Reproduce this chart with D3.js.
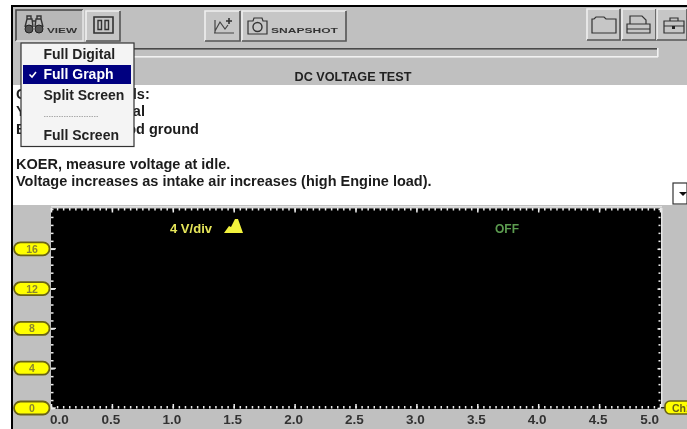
<!DOCTYPE html>
<html lang="en">
  <head>
    <meta charset="utf-8">
    <title>DC Voltage Test</title>
    <script src="https://d3js.org/d3.v7.min.js"></script>
    <style>
      html, body { margin: 0; padding: 0; background: #fff; }
      svg { display: block; }
      text { font-family: "Liberation Sans", Arial, sans-serif; font-weight: bold; }
      .notes text { font-size: 14.5px; fill: #1c1c1c; }
      .menu text { font-size: 14px; fill: #222; }
      .axis path { display: none; }
      .axis line { stroke: #ececec; stroke-width: 1.5; }
    </style>
  </head>
  <body>
    <div id="chart"></div>
    <script>

    // values
    const timeTicks = [0, 0.5, 1, 1.5, 2, 2.5, 3, 3.5, 4, 4.5, 5];
    const voltTicks = [0, 4, 8, 12, 16];
    const voltMax = 20;
    const menuItems = ["Full Digital", "Full Graph", "Split Screen", "", "Full Screen"];
    const noteLines = [
      "Connect test leads:",
      "Yellow lead: signal",
      "Black lead to good ground",
      "",
      "KOER, measure voltage at idle.",
      "Voltage increases as intake air increases (high Engine load)."
    ];

    const W = 687, H = 429;
    const svg = d3.select("#chart").append("svg").attr("width", W).attr("height", H);

    // JPEG softness of the screenshot
    svg.append("defs").append("filter").attr("id", "soft")
      .append("feGaussianBlur").attr("stdDeviation", 0.5);

    const root = svg.append("g").attr("filter", "url(#soft)");

    function rect(g, x, y, w, h, fill) {
      return g.append("rect").attr("x", x).attr("y", y).attr("width", w).attr("height", h).attr("fill", fill);
    }

    function line(g, d, color, width) {
      return g.append("path").attr("d", d).attr("fill", "none")
        .attr("stroke", color).attr("stroke-width", width || 1.2);
    }

    // window frame
    rect(root, 11, 6, W - 11, H - 6, "#c0c0c0");
    rect(root, 11, 5, W - 11, 2, "#000");
    rect(root, 11, 5, 2, H - 5, "#000");

    // toolbar buttons
    function button(x, y, w, h, pressed) {
      const g = root.append("g");
      rect(g, x, y, w, h, pressed ? "#b8b8b8" : "#c6c6c6");
      line(g, `M${x},${y + h}V${y}H${x + w}`, pressed ? "#444" : "#efefef", 1.6);
      line(g, `M${x + w},${y}V${y + h}H${x}`, pressed ? "#e4e4e4" : "#555", 1.6);
      return g;
    }

    const view = button(16, 10, 67, 31, true);
    line(view, "M25,27l2,-8h5l1,8M35,27l1,-8h5l2,8M32,21h4M27,19v-3h4v3M37,19v-3h4v3", "#333", 1.4);
    view.append("circle").attr("cx", 29).attr("cy", 29).attr("r", 4).attr("fill", "#555").attr("stroke", "#222");
    view.append("circle").attr("cx", 39).attr("cy", 29).attr("r", 4).attr("fill", "#555").attr("stroke", "#222");
    view.append("text").attr("x", 47).attr("y", 33).attr("font-size", 7).attr("textLength", 30)
      .attr("lengthAdjust", "spacingAndGlyphs").attr("fill", "#333").text("VIEW");

    const pause = button(86, 11, 34, 30, false);
    line(pause, "M94,17h19v16h-19z", "#333", 1.6);
    line(pause, "M98,20.5h3.5v9h-3.5zM105,20.5h3.5v9h-3.5z", "#333", 1.4);

    const graphBtn = button(205, 11, 35, 30, false);
    line(graphBtn, "M214,33h20M215,33v-13M215,31l5,-9l5,7l3,-4", "#444");
    line(graphBtn, "M226,21h6M229,18v6", "#333", 1.6);

    const snap = button(242, 11, 104, 30, false);
    line(snap, "M248,21h5l1,-3h8l1,3h4v13h-19z", "#333");
    snap.append("circle").attr("cx", 257.5).attr("cy", 27).attr("r", 4.5).attr("fill", "none").attr("stroke", "#333").attr("stroke-width", 1.4);
    snap.append("text").attr("x", 271).attr("y", 33).attr("font-size", 6.5).attr("textLength", 67)
      .attr("lengthAdjust", "spacingAndGlyphs").attr("fill", "#333").text("SNAPSHOT");

    const folder = button(587, 9, 33, 31, false);
    line(folder, "M592,33v-14h2l2,-2h8l2,2h10v14z", "#333");

    const printer = button(622, 9, 34, 31, false);
    line(printer, "M630,24v-8h12l4,4v4M627,24h23v9h-23zM627,29h23", "#333");

    const toolbox = button(657, 9, 30, 31, false);
    line(toolbox, "M664,33v-12h20v12zM664,26h20M670,21v-3h8v3", "#333");
    rect(toolbox, 672, 26, 3, 3, "#222");

    // sunken bar under the toolbar
    rect(root, 134, 48, 524, 1.6, "#4a4a4a");
    rect(root, 134, 56, 524, 1.6, "#f2f2f2");
    rect(root, 657, 48, 1.6, 9, "#f2f2f2");

    // title
    root.append("text").attr("x", 353).attr("y", 81).attr("text-anchor", "middle")
      .attr("font-size", 12).attr("textLength", 117).attr("lengthAdjust", "spacingAndGlyphs")
      .attr("fill", "#222").text("DC VOLTAGE TEST");

    // notes panel
    rect(root, 13, 85, W - 13, 120, "#fff");
    const noteY = d3.scalePoint().domain(d3.range(noteLines.length)).range([99, 186]);
    root.append("g").attr("class", "notes")
      .selectAll("text")
      .data(noteLines)
      .join("text")
        .attr("x", 16)
        .attr("y", (d, i) => noteY(i))
        .text(d => d);

    // scroll button
    rect(root, 673, 183, 14, 21, "#fff").attr("stroke", "#333").attr("stroke-width", 1.2);
    root.append("path").attr("d", "M679,192h8l-4,4z").attr("fill", "#111");

    // plot
    const x = d3.scaleLinear().domain([0, 5]).range([51, 660]);
    const y = d3.scaleLinear().domain([0, voltMax]).range([408, 209]);

    rect(root, 51, 208.5, 610, 200.5, "#000");
    rect(root, 661, 208, 1.5, 201, "#e6e6e6");
    rect(root, 51, 206, 611, 1.5, "#e2e2e2");

    const minorX = d3.range(0, 100).map(i => i * 0.05);
    const minorY = d3.range(0, 100).map(i => i * 0.8);

    function xAxis(offset, major, minor) {
      const g = root.append("g").attr("class", "axis").attr("transform", `translate(0,${offset})`);
      g.call(d3.axisBottom(x).tickValues(minorX).tickSize(minor).tickFormat(""));
      g.append("g").call(d3.axisBottom(x).tickValues(timeTicks).tickSize(major).tickFormat(""));
    }
    xAxis(208, 4.5, 2.5);
    xAxis(408.5, -4.5, -2.5);

    function yAxis(offset, major, minor) {
      const g = root.append("g").attr("class", "axis").attr("transform", `translate(${offset},0)`);
      g.call(d3.axisRight(y).tickValues(minorY.filter(v => v <= voltMax)).tickSize(minor).tickFormat(""));
      g.append("g").call(d3.axisRight(y).tickValues(voltTicks).tickSize(major).tickFormat(""));
    }
    yAxis(51, 4, 2.5);
    yAxis(660.5, -3, -2);

    // time labels, the outer two stay inside the plot width
    root.append("g")
      .selectAll("text")
      .data(timeTicks)
      .join("text")
        .attr("x", d => x(d) - 1)
        .attr("y", 424)
        .attr("text-anchor", d => d === 0 ? "start" : d === 5 ? "end" : "middle")
        .attr("font-size", 13.5)
        .attr("fill", "#333")
        .text(d => d.toFixed(1));

    // volt pills
    const pills = root.append("g")
      .selectAll("g")
      .data(voltTicks)
      .join("g")
        .attr("transform", d => `translate(0,${y(d)})`);
    pills.append("line").attr("x1", 49).attr("x2", 56).attr("stroke", "#e8e8e8").attr("stroke-width", 1.2);
    pills.append("rect").attr("x", 14).attr("y", -6.5).attr("width", 35.5).attr("height", 13).attr("rx", 6.5)
      .attr("fill", "#ffff00").attr("stroke", "#6a6414").attr("stroke-width", 1.8);
    pills.append("text").attr("x", 32).attr("y", 4).attr("text-anchor", "middle")
      .attr("font-size", 10.5).attr("font-weight", "normal").attr("fill", "#8a8430").text(d => d);

    // channel tag
    rect(root, 661, 407, 5, 1.5, "#222");
    root.append("rect").attr("x", 665).attr("y", 401).attr("width", 30).attr("height", 13).attr("rx", 5)
      .attr("fill", "#ffff00").attr("stroke", "#6a6414").attr("stroke-width", 1.6);
    root.append("text").attr("x", 672).attr("y", 412).attr("font-size", 10.5).attr("font-weight", "normal")
      .attr("fill", "#6a6414").text("Ch1");

    // scale readout
    root.append("text").attr("x", 170).attr("y", 233).attr("font-size", 12.5).attr("textLength", 42)
      .attr("lengthAdjust", "spacingAndGlyphs").attr("fill", "#e6e65a").text("4 V/div");
    root.append("path").attr("d", "M224,233l5,-7l2,1l4,-8l3,0l5,14z").attr("fill", "#f2f23c");
    root.append("text").attr("x", 495).attr("y", 233).attr("font-size", 12.5).attr("font-weight", "normal")
      .attr("textLength", 24).attr("lengthAdjust", "spacingAndGlyphs")
      .attr("fill", "#5c9c50").text("OFF");

    // view menu on top of the notes
    const menu = root.append("g").attr("class", "menu");
    rect(menu, 21, 43, 113, 103.5, "#f4f4f4").attr("stroke", "#333").attr("stroke-width", 1.2);
    rect(menu, 23, 65, 108, 19, "#000080");
    const menuY = d3.scalePoint().domain(d3.range(menuItems.length)).range([59, 140]);
    menu.selectAll("text")
      .data(menuItems)
      .join("text")
        .attr("x", 43.5)
        .attr("y", (d, i) => menuY(i))
        .style("fill", d => d === "Full Graph" ? "#fff" : "#222")
        .text(d => d);
    menu.append("path").attr("d", "M29.5,74.5l2.5,2.5l4,-5").attr("fill", "none").attr("stroke", "#fff").attr("stroke-width", 1.6);
    menu.append("line").attr("x1", 44).attr("x2", 99).attr("y1", 116.5).attr("y2", 116.5)
      .attr("stroke", "#aaa").attr("stroke-dasharray", "1.5,1");

    </script>
  </body>
</html>
